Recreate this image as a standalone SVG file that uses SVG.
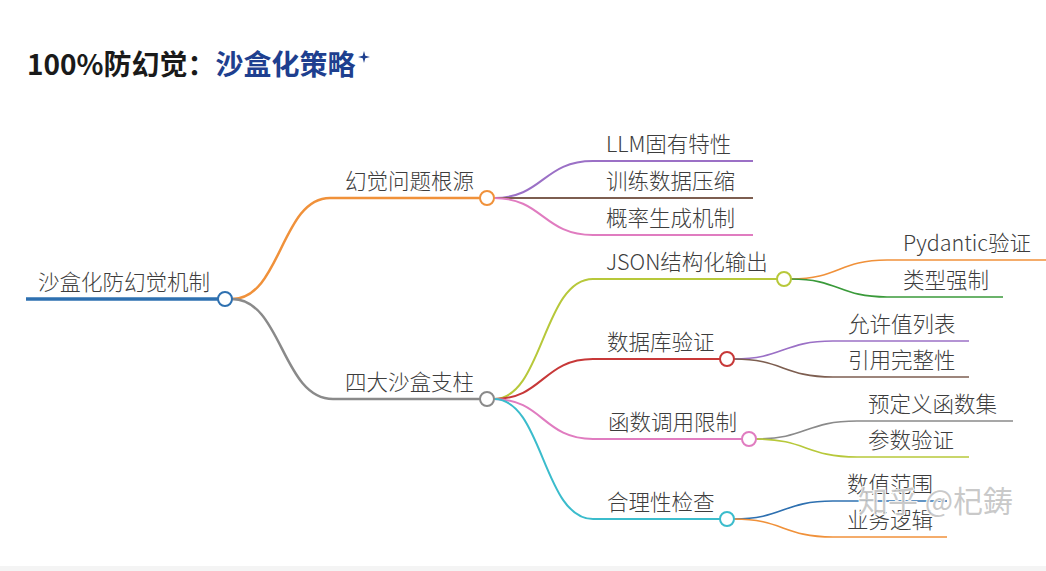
<svg xmlns="http://www.w3.org/2000/svg" width="1046" height="571" viewBox="0 0 1046 571">
<style>
  .t { font-family: "Noto Sans CJK SC", "Noto Sans", sans-serif; font-size: 21.5px; font-weight: 300; fill: #3d3d3d; }
  .title { font-family: "Noto Sans CJK SC", "Noto Sans", sans-serif; font-size: 28px; font-weight: bold; }
  .c { fill: #fff; stroke-width: 2; }
  .l1 { fill: none; stroke-width: 2.5; }
  .l2 { fill: none; stroke-width: 2; }
  .l3 { fill: none; stroke-width: 1.7; }
  .wm { font-family: "Noto Sans CJK JP", "Noto Sans CJK SC", sans-serif; font-size: 30px; fill: #b8b8b8; fill-opacity: 0.75; stroke: #fff; stroke-width: 1.5; paint-order: stroke; }
</style>
<rect width="1046" height="571" fill="#fff"/>
<rect x="0" y="566" width="1046" height="5" fill="#f4f4f4"/>

<g id="title">
  <text class="title" x="27" y="75"><tspan fill="#1a1a1a">100%防幻觉：</tspan><tspan fill="#1e3f8f">沙盒化策略</tspan></text>
  <path d="M364,51 L365.3,55.7 L370,57 L365.3,58.3 L364,63 L362.7,58.3 L358,57 L362.7,55.7 Z" fill="#1e3f8f"/>
</g>

<g id="connectors">
  <path class="l1" stroke="#f0913a" d="M232,299 C281,299 281,198 330,198"/>
  <path class="l1" stroke="#8a8a8a" d="M232,299 C282,299 282,399 333,399"/>

  <path class="l2" stroke="#9b70c6" d="M494,198 C543,198 543,161 593,161"/>
  <path class="l2" stroke="#7d5e50" d="M494,198 L593,198"/>
  <path class="l2" stroke="#e07cc0" d="M494,198 C543,198 543,235 593,235"/>

  <path class="l2" stroke="#b7c83a" d="M494,399 C543,399 543,279 593,279"/>
  <path class="l2" stroke="#c73838" d="M494,399 C543,399 543,359 593,359"/>
  <path class="l2" stroke="#e07cc0" d="M494,399 C543,399 543,439 593,439"/>
  <path class="l2" stroke="#3bbccc" d="M494,399 C543,399 543,519 593,519"/>

  <path class="l3" stroke="#f0913a" d="M791,279 C839,279 839,260 887,260"/>
  <path class="l3" stroke="#3a9a3a" d="M791,279 C839,279 839,297 887,297"/>
  <path class="l3" stroke="#9b70c6" d="M734,359 C783,359 783,341 833,341"/>
  <path class="l3" stroke="#7d5e50" d="M734,359 C783,359 783,377 833,377"/>
  <path class="l3" stroke="#8a8a8a" d="M756,439 C806,439 806,421 857,421"/>
  <path class="l3" stroke="#b7c83a" d="M756,439 C806,439 806,457 857,457"/>
  <path class="l3" stroke="#2e70b0" d="M734,519 C783,519 783,501 833,501"/>
  <path class="l3" stroke="#f0913a" d="M734,519 C783,519 783,537 833,537"/>
</g>

<g id="root">
  <text class="t" x="38" y="290">沙盒化防幻觉机制</text>
  <line x1="26" y1="299" x2="218" y2="299" stroke="#2e70b0" stroke-width="3.5"/>
  <circle class="c" cx="225" cy="299" r="7" stroke="#2e70b0"/>
</g>

<g id="n1">
  <text class="t" x="345" y="189">幻觉问题根源</text>
  <line class="l1" x1="330" y1="198" x2="480" y2="198" stroke="#f0913a"/>
  <circle class="c" cx="487" cy="198" r="7" stroke="#f0913a"/>
</g>
<g id="n1a">
  <text class="t" x="606" y="152">LLM固有特性</text>
  <line class="l2" x1="593" y1="161" x2="753" y2="161" stroke="#9b70c6"/>
</g>
<g id="n1b">
  <text class="t" x="606" y="189">训练数据压缩</text>
  <line class="l2" x1="593" y1="198" x2="753" y2="198" stroke="#7d5e50"/>
</g>
<g id="n1c">
  <text class="t" x="606" y="226">概率生成机制</text>
  <line class="l2" x1="593" y1="235" x2="753" y2="235" stroke="#e07cc0"/>
</g>

<g id="n2">
  <text class="t" x="345" y="390">四大沙盒支柱</text>
  <line class="l1" x1="333" y1="399" x2="480" y2="399" stroke="#8a8a8a"/>
  <circle class="c" cx="487" cy="399" r="7" stroke="#8a8a8a"/>
</g>

<g id="n2a">
  <text class="t" x="606" y="270">JSON结构化输出</text>
  <line class="l2" x1="593" y1="279" x2="777" y2="279" stroke="#b7c83a"/>
  <circle class="c" cx="784" cy="279" r="7" stroke="#b7c83a"/>
</g>
<g id="n2a1">
  <text class="t" x="903" y="251">Pydantic验证</text>
  <line class="l3" x1="887" y1="260" x2="1046" y2="260" stroke="#f0913a"/>
</g>
<g id="n2a2">
  <text class="t" x="903" y="288">类型强制</text>
  <line class="l3" x1="887" y1="297" x2="1003" y2="297" stroke="#3a9a3a"/>
</g>

<g id="n2b">
  <text class="t" x="607" y="350">数据库验证</text>
  <line class="l2" x1="593" y1="359" x2="720" y2="359" stroke="#c73838"/>
  <circle class="c" cx="727" cy="359" r="7" stroke="#c73838"/>
</g>
<g id="n2b1">
  <text class="t" x="848" y="332">允许值列表</text>
  <line class="l3" x1="833" y1="341" x2="969" y2="341" stroke="#9b70c6"/>
</g>
<g id="n2b2">
  <text class="t" x="848" y="368">引用完整性</text>
  <line class="l3" x1="833" y1="377" x2="969" y2="377" stroke="#7d5e50"/>
</g>

<g id="n2c">
  <text class="t" x="608" y="430">函数调用限制</text>
  <line class="l2" x1="593" y1="439" x2="742" y2="439" stroke="#e07cc0"/>
  <circle class="c" cx="749" cy="439" r="7" stroke="#e07cc0"/>
</g>
<g id="n2c1">
  <text class="t" x="868" y="412">预定义函数集</text>
  <line class="l3" x1="857" y1="421" x2="1013" y2="421" stroke="#8a8a8a"/>
</g>
<g id="n2c2">
  <text class="t" x="868" y="448">参数验证</text>
  <line class="l3" x1="857" y1="457" x2="969" y2="457" stroke="#b7c83a"/>
</g>

<g id="n2d">
  <text class="t" x="607" y="510">合理性检查</text>
  <line class="l2" x1="593" y1="519" x2="720" y2="519" stroke="#3bbccc"/>
  <circle class="c" cx="727" cy="519" r="7" stroke="#3bbccc"/>
</g>
<g id="n2d1">
  <text class="t" x="847" y="492">数值范围</text>
  <line class="l3" x1="833" y1="501" x2="947" y2="501" stroke="#2e70b0"/>
</g>
<g id="n2d2">
  <text class="t" x="847" y="528">业务逻辑</text>
  <line class="l3" x1="833" y1="537" x2="947" y2="537" stroke="#f0913a"/>
</g>

<g id="watermark">
  <text class="wm" x="858" y="512">知乎 @杞鋳</text>
</g>
</svg>
